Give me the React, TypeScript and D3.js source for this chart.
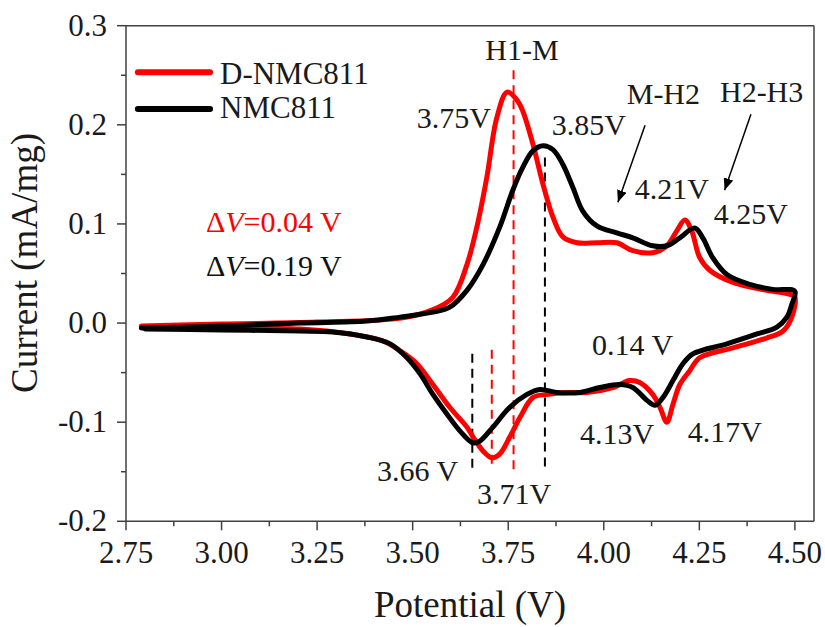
import React, { useEffect, useState } from "react";
import * as d3 from "d3";

const W = 825;
const H = 627;

// Cyclic voltammograms: [potential (V), current (mA/mg)] traced as a closed loop
const dNmcCurve: [number, number][] = [
  [2.79, -0.003], [3.0, -0.001], [3.25, 0.001], [3.47, 0.005], [3.55, 0.013],
  [3.605, 0.026], [3.642, 0.059], [3.668, 0.097], [3.694, 0.147], [3.72, 0.207],
  [3.747, 0.233], [3.773, 0.225], [3.788, 0.214], [3.815, 0.18], [3.841, 0.14],
  [3.867, 0.107], [3.893, 0.087], [3.93, 0.081], [3.982, 0.081], [4.034, 0.081],
  [4.076, 0.073], [4.128, 0.071], [4.165, 0.078], [4.191, 0.093], [4.212, 0.104],
  [4.23, 0.093], [4.251, 0.066], [4.278, 0.053], [4.338, 0.041], [4.427, 0.033],
  [4.487, 0.029], [4.5, 0.026], [4.492, 0.006], [4.469, -0.008], [4.427, -0.015],
  [4.338, -0.025], [4.251, -0.035], [4.225, -0.048], [4.199, -0.062], [4.181, -0.082],
  [4.165, -0.1], [4.147, -0.085], [4.128, -0.072], [4.094, -0.06], [4.068, -0.058],
  [4.024, -0.065], [3.956, -0.07], [3.904, -0.07], [3.851, -0.072], [3.815, -0.075],
  [3.781, -0.095], [3.754, -0.115], [3.728, -0.132], [3.707, -0.136], [3.684, -0.129],
  [3.658, -0.115], [3.642, -0.105], [3.597, -0.085], [3.553, -0.062], [3.511, -0.041],
  [3.467, -0.028], [3.422, -0.018], [3.336, -0.011], [3.205, -0.006], [3.0, -0.005],
  [2.8, -0.004],
];

const nmcCurve: [number, number][] = [
  [2.79, -0.005], [3.0, -0.003], [3.205, 0.0], [3.38, 0.002], [3.467, 0.006],
  [3.553, 0.011], [3.597, 0.016], [3.642, 0.033], [3.684, 0.059], [3.728, 0.097],
  [3.762, 0.134], [3.788, 0.157], [3.815, 0.174], [3.841, 0.179], [3.867, 0.175],
  [3.893, 0.16], [3.919, 0.137], [3.945, 0.113], [3.982, 0.098], [4.034, 0.091],
  [4.076, 0.086], [4.128, 0.078], [4.165, 0.078], [4.199, 0.086], [4.238, 0.096],
  [4.259, 0.086], [4.285, 0.066], [4.322, 0.049], [4.382, 0.039], [4.442, 0.034],
  [4.5, 0.032], [4.492, 0.019], [4.479, 0.006], [4.453, -0.004], [4.401, -0.011],
  [4.322, -0.021], [4.233, -0.031], [4.207, -0.041], [4.181, -0.058], [4.155, -0.075],
  [4.134, -0.083], [4.113, -0.078], [4.076, -0.065], [4.042, -0.062], [3.99, -0.065],
  [3.938, -0.07], [3.877, -0.07], [3.833, -0.067], [3.799, -0.072], [3.754, -0.085],
  [3.71, -0.105], [3.676, -0.119], [3.658, -0.121], [3.624, -0.109], [3.59, -0.092],
  [3.553, -0.072], [3.519, -0.051], [3.485, -0.035], [3.441, -0.021], [3.38, -0.014],
  [3.291, -0.009], [3.205, -0.008], [3.0, -0.007], [2.8, -0.006],
];

const seriesNames = ["D-NMC811", "NMC811"];
const seriesColors = ["#ff0000", "#000000"];

const xTicks = [2.75, 3.0, 3.25, 3.5, 3.75, 4.0, 4.25, 4.5];
const xMinorTicks = [2.875, 3.125, 3.375, 3.625, 3.875, 4.125, 4.375];
const yTicks = [-0.2, -0.1, 0.0, 0.1, 0.2, 0.3];
const yMinorTicks = [-0.15, -0.05, 0.05, 0.15, 0.25];

// dashed guide lines: [V, I top, I bottom, color]
const guideLines: [number, number, number, string][] = [
  [3.764, 0.255, -0.153, "#ff0000"],
  [3.846, 0.167, -0.149, "#000000"],
  [3.656, -0.031, -0.149, "#000000"],
  [3.707, -0.027, -0.146, "#ff0000"],
];

// annotation labels: [text, V, I]
const peakLabels: [string, number, number][] = [
  ["H1-M", 3.69, 0.265],
  ["3.75V", 3.511, 0.197],
  ["3.85V", 3.864, 0.19],
  ["M-H2", 4.06, 0.221],
  ["H2-H3", 4.304, 0.223],
  ["4.21V", 4.081, 0.125],
  ["4.25V", 4.288, 0.1],
  ["0.14 V", 3.969, -0.032],
  ["4.13V", 3.938, -0.122],
  ["4.17V", 4.22, -0.12],
  ["3.66 V", 3.407, -0.159],
  ["3.71V", 3.668, -0.183],
];

// arrows: [V from, I from, V tip, I tip]
const arrows: [number, number, number, number][] = [
  [4.108, 0.1995, 4.037, 0.1218],
  [4.385, 0.2106, 4.316, 0.134],
];

const deltaLabels: [string, string, number, number, string][] = [
  ["\u0394", "=0.04 V", 2.959, 0.0915, "#ff0000"],
  ["\u0394", "=0.19 V", 2.959, 0.047, "#111"],
];

const FONT = "Liberation Serif";

export default function App() {
  const [, setTick] = useState(0);
  useEffect(() => {
    document.body.style.margin = "0";
    const f = (document as any).fonts;
    if (f && f.ready) f.ready.then(() => setTick((t) => t + 1));
    const id = setTimeout(() => setTick((t) => t + 1), 50);
    return () => clearTimeout(id);
  }, []);

  const x = d3.scaleLinear().domain([2.75, 4.55]).range([126, 814]);
  const y = d3.scaleLinear().domain([-0.2, 0.3]).range([521.3, 25.7]);

  const line = d3
    .line<[number, number]>()
    .x((d) => x(d[0]))
    .y((d) => y(d[1]))
    .curve(d3.curveCatmullRom.alpha(0.5));

  const axisColor = "#404040";
  const left = x(2.75);
  const right = x(4.55);
  const top = y(0.3);
  const bottom = y(-0.2);

  const curves = [dNmcCurve, nmcCurve];
  const ts = { fontFamily: '"Liberation Serif", monospace' };
  const txt = "#1a1a1a";

  return (
    <svg
      width={W}
      height={H}
      fontFamily={FONT}
      style={{ position: "absolute", left: 0, top: 0 }}
    >
      <rect x={0} y={0} width={W} height={H} fill="#fff" />
      <defs>
        <marker
          id="arrowhead"
          viewBox="0 0 12 10"
          refX="12"
          refY="5"
          markerWidth="12"
          markerHeight="10"
          markerUnits="userSpaceOnUse"
          orient="auto"
        >
          <path d="M0,0 L12,5 L0,10 Z" fill="#000" />
        </marker>
      </defs>

      {/* frame */}
      <line x1={left} x2={right} y1={top} y2={top} stroke={axisColor} strokeWidth={1.5} />
      <line x1={right} x2={right} y1={top} y2={bottom} stroke={axisColor} strokeWidth={1.5} />
      <line x1={left} x2={left} y1={top} y2={bottom} stroke={axisColor} strokeWidth={1.5} />
      <line x1={left} x2={right} y1={bottom} y2={bottom} stroke={axisColor} strokeWidth={1.5} />

      {/* x ticks */}
      {xTicks.map((t) => (
        <g key={"xt" + t}>
          <line x1={x(t)} x2={x(t)} y1={bottom} y2={bottom + 9} stroke={axisColor} strokeWidth={1.5} />
          <text x={x(t)} y={563} textAnchor="middle" fontSize={31} fontFamily={FONT} fill={txt} style={ts}>
            {t.toFixed(2)}
          </text>
        </g>
      ))}
      {xMinorTicks.map((t) => (
        <line key={"xm" + t} x1={x(t)} x2={x(t)} y1={bottom} y2={bottom + 5} stroke={axisColor} strokeWidth={1.5} />
      ))}

      {/* y ticks */}
      {yTicks.map((t) => (
        <g key={"yt" + t}>
          <line x1={left - 9} x2={left} y1={y(t)} y2={y(t)} stroke={axisColor} strokeWidth={1.5} />
          <text x={107} y={y(t) + 10} textAnchor="end" fontSize={31} fontFamily={FONT} fill={txt} style={ts}>
            {t.toFixed(1)}
          </text>
        </g>
      ))}
      {yMinorTicks.map((t) => (
        <line key={"ym" + t} x1={left - 5} x2={left} y1={y(t)} y2={y(t)} stroke={axisColor} strokeWidth={1.5} />
      ))}

      {/* axis titles */}
      <text x={470} y={617} textAnchor="middle" fontSize={37} fontFamily={FONT} fill={txt} style={ts}>
        Potential (V)
      </text>
      <text
        transform={`translate(37,263) rotate(-90)`}
        textAnchor="middle"
        fontSize={37}
        fontFamily={FONT}
        fill={txt}
        style={ts}
      >
        Current (mA/mg)
      </text>

      {/* dashed guides */}
      {guideLines.map(([v, i1, i2, c], k) => (
        <line
          key={"g" + k}
          x1={x(v)}
          x2={x(v)}
          y1={y(i1)}
          y2={y(i2)}
          stroke={c}
          strokeWidth={2}
          strokeDasharray="9,6"
        />
      ))}

      {/* curves */}
      {curves.map((c, k) => (
        <path
          key={"c" + k}
          d={line(c) || ""}
          fill="none"
          stroke={seriesColors[k]}
          strokeWidth={5}
          strokeLinejoin="round"
          strokeLinecap="round"
        />
      ))}

      {/* arrows */}
      {arrows.map(([v1, i1, v2, i2], k) => (
        <line
          key={"a" + k}
          x1={x(v1)}
          y1={y(i1)}
          x2={x(v2)}
          y2={y(i2)}
          stroke="#000"
          strokeWidth={1.5}
          markerEnd="url(#arrowhead)"
        />
      ))}

      {/* peak labels */}
      {peakLabels.map(([t, v, i], k) => (
        <text key={"l" + k} x={x(v)} y={y(i)} fontSize={30} fontFamily={FONT} fill={txt} style={ts}>
          {t}
        </text>
      ))}

      {/* delta V labels */}
      {deltaLabels.map(([d, rest, v, i, c], k) => (
        <text key={"d" + k} x={x(v)} y={y(i)} fontSize={30} fontFamily={FONT} fill={c} style={ts}>
          {d}
          <tspan fontStyle="italic">V</tspan>
          {rest}
        </text>
      ))}

      {/* legend */}
      {seriesNames.map((n, k) => {
        const ly = y(k === 0 ? 0.253 : 0.216);
        const ty = y(k === 0 ? 0.241 : 0.207);
        return (
          <g key={"lg" + k}>
            <line
              x1={x(2.781)}
              x2={x(2.97)}
              y1={ly}
              y2={ly}
              stroke={seriesColors[k]}
              strokeWidth={6}
              strokeLinecap="round"
            />
            <text x={x(2.996)} y={ty} fontSize={31} fontFamily={FONT} fill={txt} style={ts}>
              {n}
            </text>
          </g>
        );
      })}
    </svg>
  );
}
